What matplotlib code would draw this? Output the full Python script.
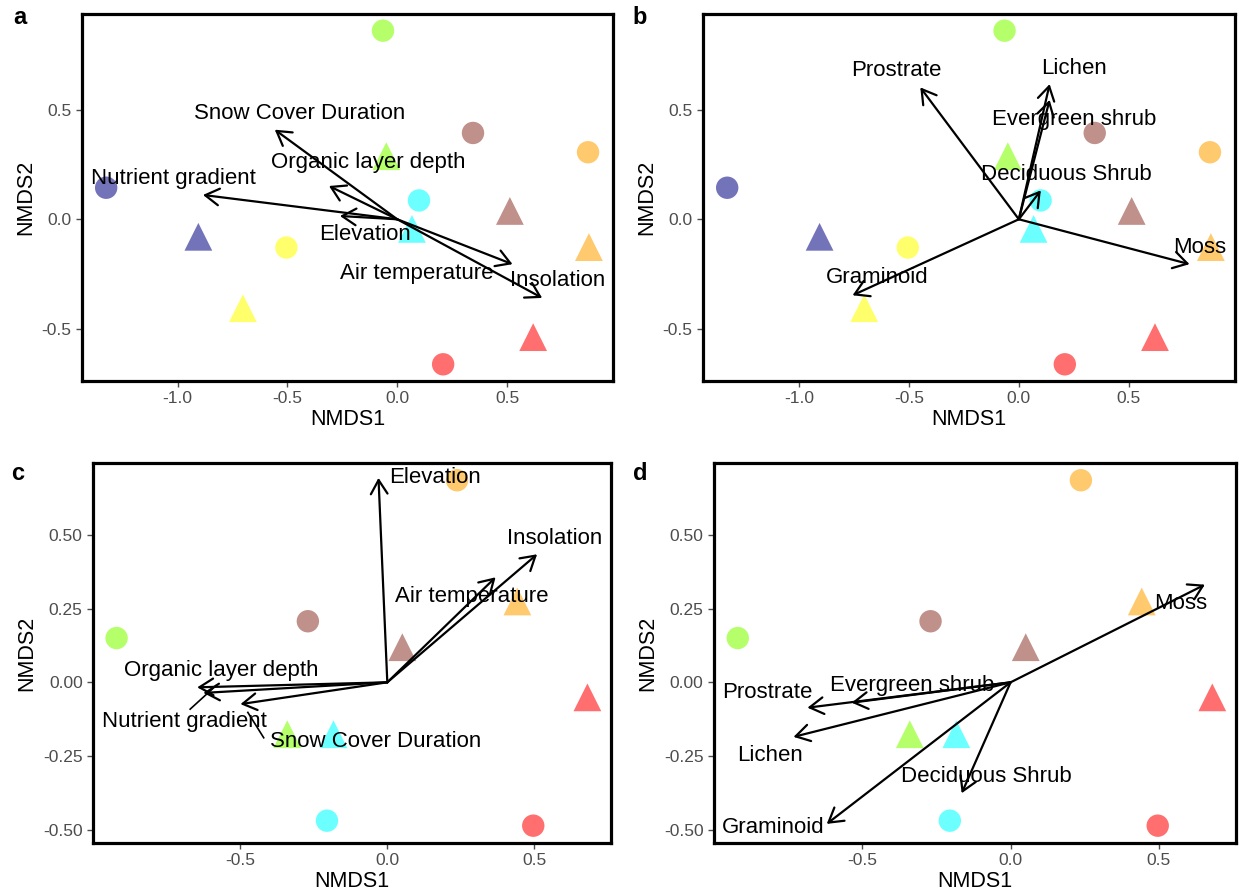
import matplotlib
matplotlib.use("Agg")
import matplotlib.pyplot as plt

plt.rcParams['font.family'] = ['Liberation Sans', 'DejaVu Sans']

# site colours (a/b: 7 sites, c/d: 5 sites)
colors_ab = ["#B5FF6B", "#C0908A", "#FFC96E", "#7373BA", "#6CFFFF", "#FFFF6B", "#FF6F6F"]
colors_cd = ["#FFC96E", "#C0908A", "#B5FF6B", "#6CFFFF", "#FF6F6F"]

# ordination scores, panels a and b
circ_x_ab = [-0.065, 0.345, 0.869, -1.326, 0.099, -0.505, 0.209]
circ_y_ab = [0.861, 0.394, 0.306, 0.144, 0.086, -0.129, -0.662]
tri_x_ab = [-0.05, 0.513, 0.873, -0.906, 0.067, -0.703, 0.619]
tri_y_ab = [0.288, 0.038, -0.127, -0.08, -0.044, -0.406, -0.538]

# ordination scores, panels c and d
circ_x_cd = [0.237, -0.27, -0.92, -0.205, 0.496]
circ_y_cd = [0.685, 0.207, 0.15, -0.469, -0.486]
tri_x_cd = [0.442, 0.051, -0.34, -0.183, 0.68]
tri_y_cd = [0.274, 0.119, -0.176, -0.176, -0.051]

# environmental vectors
env_names = ["Snow Cover Duration", "Organic layer depth", "Nutrient gradient",
             "Elevation", "Air temperature", "Insolation"]
env_a_x = [-0.558, -0.311, -0.885, -0.261, 0.525, 0.66]
env_a_y = [0.409, 0.152, 0.111, 0.015, -0.205, -0.359]
env_a_lx = [-0.444, -0.13, -1.02, -0.149, 0.09, 0.732]
env_a_ly = [0.485, 0.26, 0.186, -0.071, -0.247, -0.28]

env_c_x = [-0.499, -0.646, -0.625, -0.03, 0.368, 0.509]
env_c_y = [-0.074, -0.017, -0.036, 0.693, 0.356, 0.434]
env_c_lx = [-0.04, -0.566, -0.69, 0.162, 0.287, 0.57]
env_c_ly = [-0.199, 0.04, -0.134, 0.693, 0.292, 0.489]
# repel segments linking displaced labels in panel c
seg_c_x0 = [-0.42, -0.67]
seg_c_y0 = [-0.188, -0.091]
seg_c_x1 = [-0.474, -0.582]
seg_c_y1 = [-0.102, -0.011]

# plant functional type vectors
pft_names = ["Prostrate", "Lichen", "Evergreen shrub", "Deciduous Shrub", "Moss", "Graminoid"]
pft_b_x = [-0.448, 0.14, 0.14, 0.10, 0.776, -0.756]
pft_b_y = [0.602, 0.617, 0.545, 0.132, -0.205, -0.347]
pft_b_lx = [-0.559, 0.253, 0.253, 0.215, 0.824, -0.643]
pft_b_ly = [0.679, 0.689, 0.455, 0.205, -0.129, -0.265]

pft_d_x = [-0.685, -0.732, -0.536, -0.165, 0.655, -0.62]
pft_d_y = [-0.086, -0.185, -0.069, -0.376, 0.331, -0.48]
pft_d_lx = [-0.82, -0.812, -0.333, -0.083, 0.573, -0.8]
pft_d_ly = [-0.033, -0.247, -0.01, -0.32, 0.268, -0.492]

fig = plt.figure(figsize=(12.39, 8.96), dpi=100)
positions = {
    "a": [0.0662, 0.5748, 0.4286, 0.4096],
    "b": [0.5674, 0.5748, 0.4294, 0.4096],
    "c": [0.0751, 0.0592, 0.4180, 0.4241],
    "d": [0.5763, 0.0592, 0.4213, 0.4241],
}


def draw_panel(key, cx, cy, tx, ty, cols, vx, vy, lx, ly, names, xticks, yticks, yfmt):
    ax = fig.add_axes(positions[key])
    ax.scatter(cx, cy, s=260, c=cols, marker="o", linewidths=0, zorder=2)
    ax.scatter(tx, ty, s=400, c=cols, marker="^", linewidths=0, zorder=2)
    ax.margins(0.05)
    ax.autoscale_view()
    xl, yl = ax.get_xlim(), ax.get_ylim()
    for x, y in zip(vx, vy):
        ax.annotate("", xy=(x, y), xytext=(0, 0), zorder=3,
                    arrowprops=dict(arrowstyle="->, head_length=0.5, head_width=0.3",
                                    lw=1.6, color="black", shrinkA=0, shrinkB=0,
                                    mutation_scale=20))
    for x, y, n in zip(lx, ly, names):
        ax.text(x, y, n, ha="center", va="center", fontsize=16, color="black", zorder=4)
    ax.set_xlim(xl)
    ax.set_ylim(yl)
    ax.set_xticks(xticks)
    ax.set_yticks(yticks)
    ax.set_xticklabels([f"{t:.1f}" for t in xticks])
    ax.set_yticklabels([yfmt.format(t) for t in yticks])
    ax.tick_params(colors="#4D4D4D", labelsize=12.5, length=4, width=1)
    for sp in ax.spines.values():
        sp.set_linewidth(2.3)
        sp.set_color("black")
    ax.set_xlabel("NMDS1", fontsize=15.5, labelpad=2)
    ax.set_ylabel("NMDS2", fontsize=15.5, labelpad=4)
    return ax


draw_panel("a", circ_x_ab, circ_y_ab, tri_x_ab, tri_y_ab, colors_ab,
           env_a_x, env_a_y, env_a_lx, env_a_ly, env_names,
           [-1.0, -0.5, 0.0, 0.5], [-0.5, 0.0, 0.5], "{:.1f}")
draw_panel("b", circ_x_ab, circ_y_ab, tri_x_ab, tri_y_ab, colors_ab,
           pft_b_x, pft_b_y, pft_b_lx, pft_b_ly, pft_names,
           [-1.0, -0.5, 0.0, 0.5], [-0.5, 0.0, 0.5], "{:.1f}")
ax_c = draw_panel("c", circ_x_cd, circ_y_cd, tri_x_cd, tri_y_cd, colors_cd,
                  env_c_x, env_c_y, env_c_lx, env_c_ly, env_names,
                  [-0.5, 0.0, 0.5], [-0.5, -0.25, 0.0, 0.25, 0.5], "{:.2f}")
for x0, y0, x1, y1 in zip(seg_c_x0, seg_c_y0, seg_c_x1, seg_c_y1):
    ax_c.plot([x0, x1], [y0, y1], color="black", lw=1.2, zorder=3)
draw_panel("d", circ_x_cd, circ_y_cd, tri_x_cd, tri_y_cd, colors_cd,
           pft_d_x, pft_d_y, pft_d_lx, pft_d_ly, pft_names,
           [-0.5, 0.0, 0.5], [-0.5, -0.25, 0.0, 0.25, 0.5], "{:.2f}")

for lab, x, y in [("a", 20, 18), ("b", 640, 18), ("c", 18, 474), ("d", 640, 474)]:
    fig.text(x / 1239, 1 - y / 896, lab, fontsize=17, fontweight="bold",
             ha="center", va="center")

fig.savefig("out.png", dpi=100)
